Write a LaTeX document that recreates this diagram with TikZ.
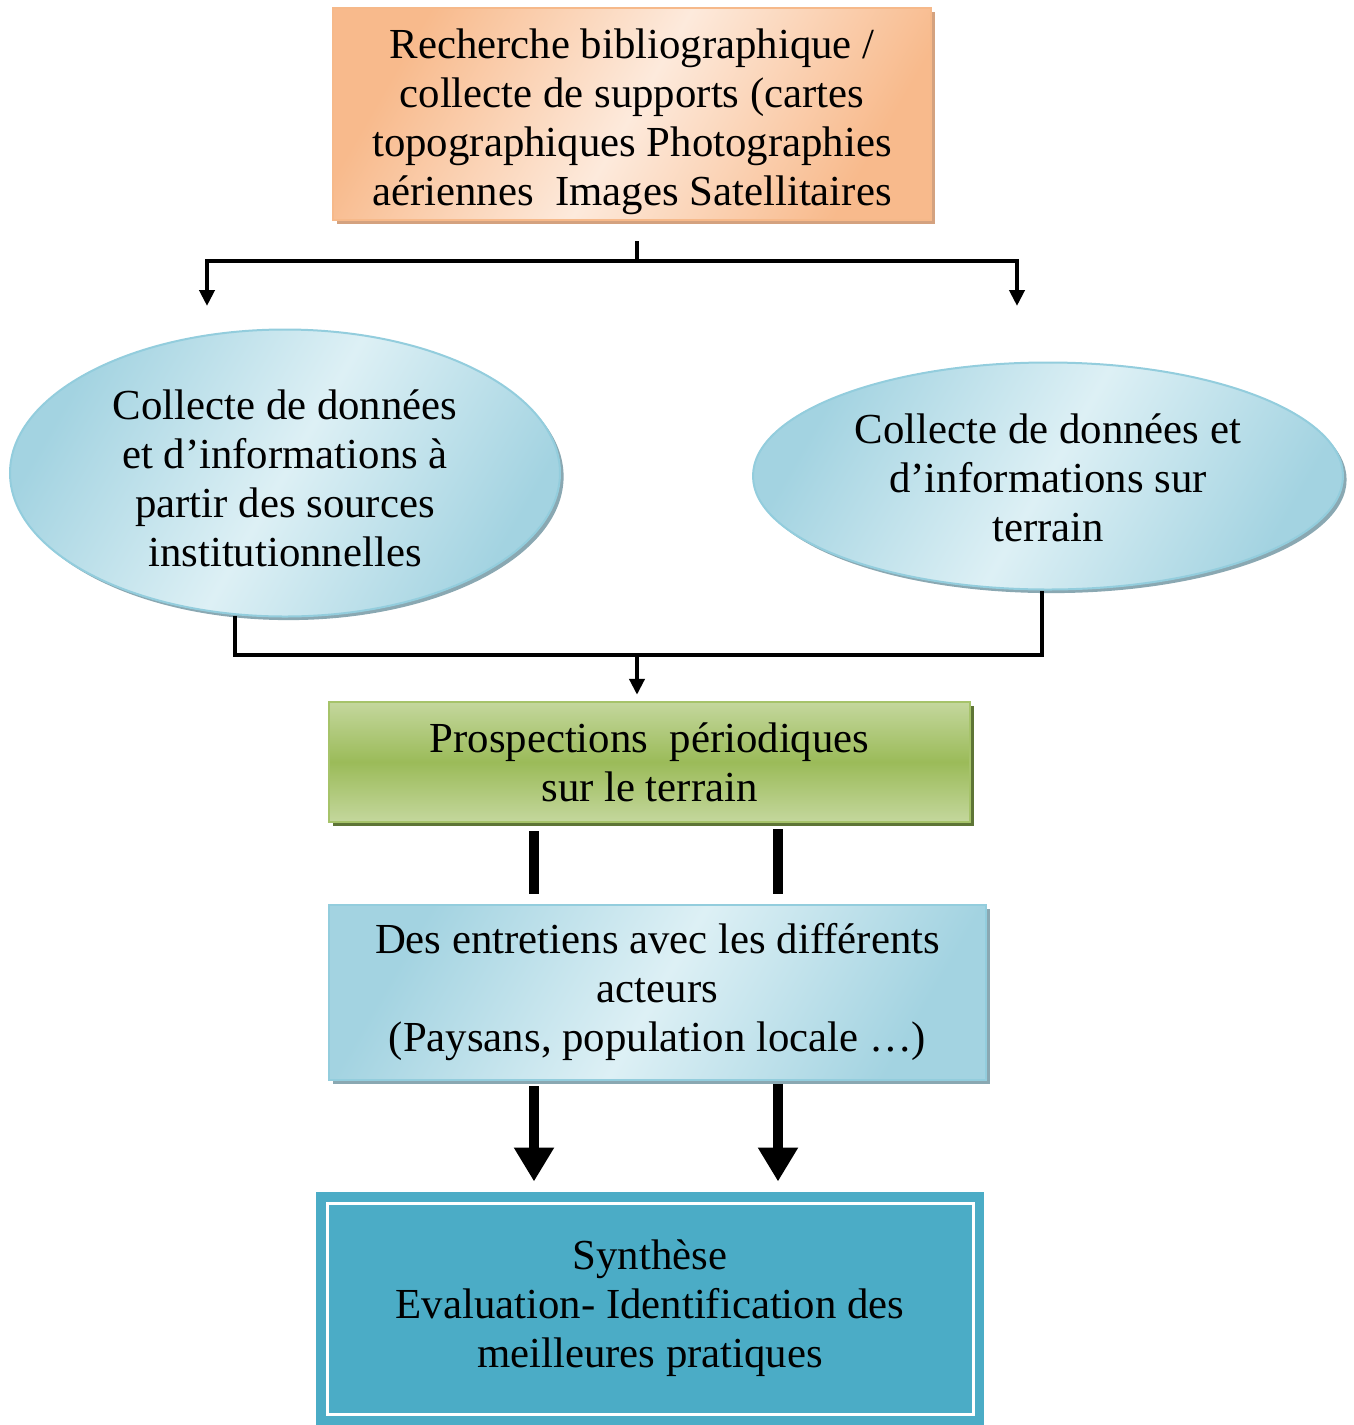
\documentclass[tikz,border=0pt]{standalone}
\usepackage{fontspec}
\setmainfont{Liberation Serif}
\usetikzlibrary{arrows.meta,shapes.geometric,shadows,calc}
\definecolor{peach}{HTML}{F8BA8C}
\definecolor{peachl}{HTML}{FDEADC}
\definecolor{peachb}{HTML}{F6B98A}
\definecolor{peachs}{HTML}{D4A27F}
\definecolor{aqua}{HTML}{A3D3E1}
\definecolor{aqual}{HTML}{DDF0F5}
\definecolor{aquab}{HTML}{93CDDD}
\definecolor{aquas}{HTML}{8AA8B2}
\definecolor{grn}{HTML}{9BBB59}
\definecolor{grnl}{HTML}{C4D79D}
\definecolor{grnb}{HTML}{A6C36A}
\definecolor{grns}{HTML}{5E7536}
\definecolor{teal}{HTML}{4BACC6}
\begin{document}
\begin{tikzpicture}[x=0.5pt,y=-0.5pt,
  txt/.style={font=\fontsize{21.4}{24.5}\selectfont, align=center, inner sep=0pt, text=black},
  topbox/.style={txt, rectangle, draw=peachb, line width=1.2pt,
    left color=peach, right color=peach, middle color=peachl, shading angle=60,
    drop shadow={shadow xshift=2pt, shadow yshift=-2pt, fill=peachs, opacity=1},
    minimum width=299pt, minimum height=106pt},
  ellbox/.style={txt, ellipse, draw=aquab, line width=1pt,
    left color=aqua, right color=aqua, middle color=aqual, shading angle=60,
    drop shadow={shadow xshift=1.8pt, shadow yshift=-1.8pt, fill=aquas, opacity=1}},
  grnbox/.style={txt, rectangle, draw=grnb, line width=1.2pt,
    top color=grnl, bottom color=grnl, middle color=grn,
    drop shadow={shadow xshift=2pt, shadow yshift=-2pt, fill=grns, opacity=1},
    minimum width=320.5pt, minimum height=60pt},
  bluebox/.style={txt, rectangle, draw=aquab, line width=1.2pt,
    left color=aqua, right color=aqua, middle color=aqual, shading angle=60,
    drop shadow={shadow xshift=2pt, shadow yshift=-2pt, fill=aquas, opacity=1},
    minimum width=328.5pt, minimum height=87.5pt},
  synbox/.style={txt, rectangle, fill=teal, draw=white, line width=1.5pt,
    preaction={draw=teal, line width=11pt},
    minimum width=323pt, minimum height=105.5pt},
  conn/.style={line width=2.1pt, line join=miter, draw=black},
  thintip/.style={-{Triangle[width=7.5pt,length=8pt]}},
  bar/.style={line width=5pt, draw=black},
  bigarrow/.style={line width=5pt, draw=black, -{Triangle[width=19pt,length=17pt]}}
]
\useasboundingbox (0,0) rectangle (1354,1425);

\node[topbox] (top) at (632,114) {\rule{0pt}{22.8pt}Recherche bibliographique /\\collecte de supports (cartes\\topographiques Photographies\\aériennes\ \ Images Satellitaires};

\node[ellbox, minimum width=275pt, minimum height=143.5pt] (el1) at (285,473)
  {\rule{0pt}{19.8pt}Collecte de données\\et d’informations à\\partir des sources\\institutionnelles};
\node[ellbox, minimum width=295pt, minimum height=113.5pt] (el2) at (1048,476)
  {\rule{0pt}{16.6pt}Collecte de données et\\d’informations sur\\terrain};

\node[grnbox] (pros) at (649.5,762) {Prospections\ \ périodiques\\sur le terrain};

\node[bluebox] (ent) at (657.5,992.5) {Des entretiens avec les différents\\acteurs\\(Paysans, population locale …)};

\node[synbox] (syn) at (650,1308.5) {Synthèse\\Evaluation- Identification des\\meilleures pratiques};

% top connectors
\coordinate (t0) at ($(top.south)+(5,20)$);
\coordinate (jt) at ($(top.south)+(5,40)$);
\coordinate (a1) at (207,306);
\coordinate (a2) at (1017,306);
\draw[conn] (t0) -- (jt);
\draw[conn,thintip] (jt) -| (a1);
\draw[conn,thintip] (jt) -| (a2);

% middle connectors
\coordinate (b1) at ($(el1.south)+(-50,-2)$);
\coordinate (b2) at ($(el2.south)+(-6,0)$);
\coordinate (jm) at (637,655);
\coordinate (a3) at ($(pros.north)+(-12.5,-6)$);
\draw[conn] (b1) |- (jm) -| (b2);
\draw[conn,thintip] (jm) -- (a3);

% bars
\draw[bar] ($(pros.south)+(-115.5,8)$) -- ($(ent.north)+(-123.5,-10)$);
\draw[bar] ($(pros.south)+(128.5,6)$) -- ($(ent.north)+(120.5,-10)$);

% big arrows
\draw[bigarrow] ($(ent.south)+(-123.5,5)$) -- ($(syn.north)+(-116,-20)$);
\draw[bigarrow] ($(ent.south)+(120.5,3)$) -- ($(syn.north)+(128,-20)$);
\end{tikzpicture}
\end{document}
